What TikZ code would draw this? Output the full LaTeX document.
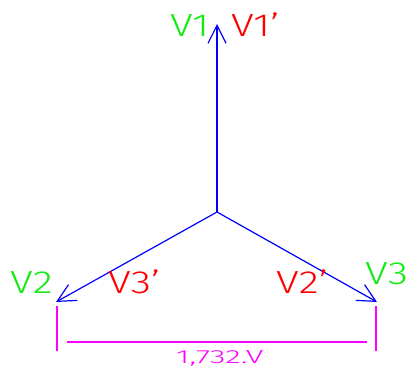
\documentclass[tikz,border=0pt]{standalone}
\usepackage{fontspec}
\usetikzlibrary{arrows.meta}
\newfontfamily\labfont[FakeStretch=1.3]{Fira Sans Light}
\newfontfamily\dimfont[FakeStretch=1.7]{Fira Sans Light}
\definecolor{cgreen}{RGB}{20,235,20}
\definecolor{cred}{RGB}{255,0,0}
\definecolor{cblue}{RGB}{0,0,255}
\definecolor{cmag}{RGB}{255,0,255}
\tikzset{
  vec/.style={draw=cblue, line width=1.2pt, -{Straight Barb[length=18pt,width=18pt,line width=1.2pt]}},
  dimline/.style={draw=cmag, line width=1.2pt},
  glab/.style={text=cgreen, font=\labfont\fontsize{32}{32}\selectfont, inner sep=0pt, anchor=base west},
  rlab/.style={text=cred, font=\labfont\fontsize{32}{32}\selectfont, inner sep=0pt, anchor=base west},
  dimlab/.style={text=cmag, font=\dimfont\fontsize{19}{19}\selectfont, inner sep=0pt, anchor=base west}
}
\begin{document}
\begin{tikzpicture}[x=1pt,y=-1pt]
\useasboundingbox (0,0) rectangle (410,372);
\coordinate (O) at (217,212);
\coordinate (A) at (217,24);
\coordinate (B) at (56,302);
\coordinate (C) at (377,302);
\draw[vec] (O) -- (A);
\draw[vec] (O) -- (B);
\draw[vec] (O) -- (C);
% dimension
\coordinate (L1) at (57,306);
\coordinate (L2) at (57,351);
\coordinate (R1) at (376,306);
\coordinate (R2) at (376,351);
\coordinate (D1) at (67,342);
\coordinate (D2) at (367,342);
\draw[dimline] (L1) -- (L2);
\draw[dimline] (R1) -- (R2);
\draw[dimline] (D1) -- (D2);
\node[dimlab] (dt) at (176,363) {1,732.V};
% labels
\node[glab] (v1) at (170,36) {V1};
\node[rlab] (v1p) at (231,36) {V1’};
\node[glab] (v2) at (10,293) {V2};
\node[rlab] (v3p) at (108,293) {V3’};
\node[rlab] (v2p) at (276,293) {V2’};
\node[glab] (v3) at (365,284) {V3};
\end{tikzpicture}
\end{document}
